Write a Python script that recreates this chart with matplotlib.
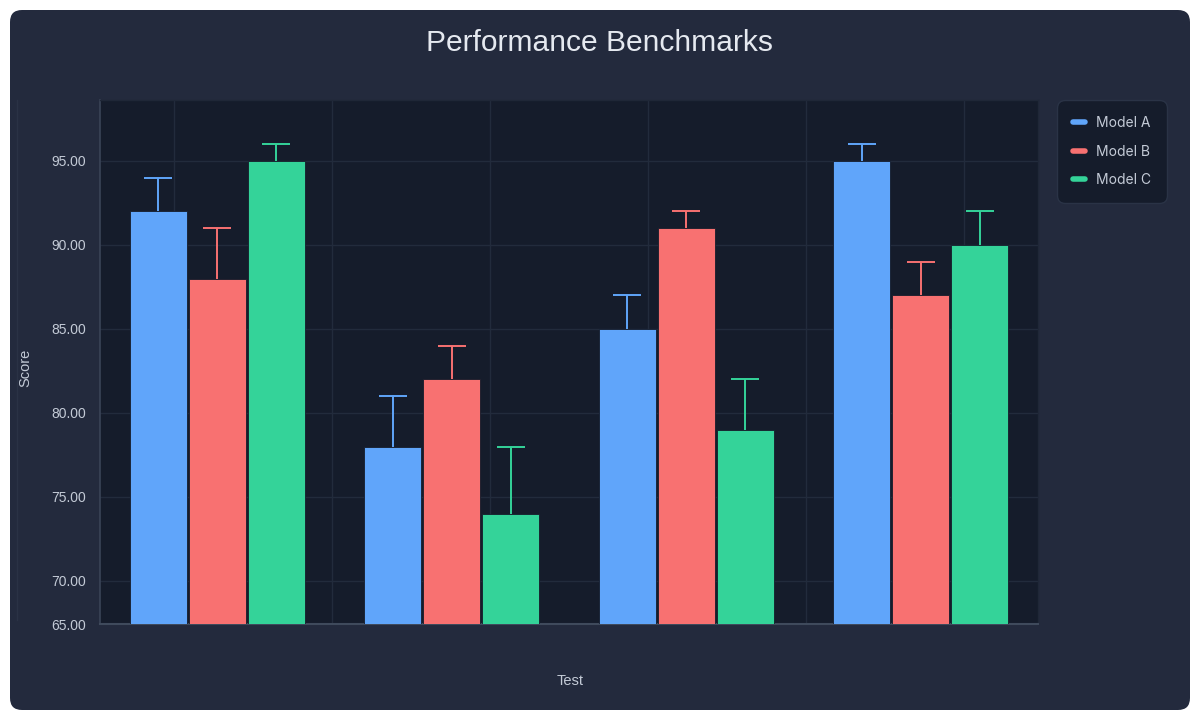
import matplotlib
matplotlib.use("Agg")
import matplotlib.pyplot as plt
from matplotlib.patches import FancyBboxPatch
from matplotlib.lines import Line2D
import numpy as np

# ---- data ----
tests = ["Test 1", "Test 2", "Test 3", "Test 4"]
models = ["Model A", "Model B", "Model C"]
model_a = [92, 78, 85, 95]
model_b = [88, 82, 91, 87]
model_c = [95, 74, 79, 90]
err_a = [2, 3, 2, 1]
err_b = [3, 2, 1, 2]
err_c = [1, 4, 3, 2]
y_ticks = [70, 75, 80, 85, 90, 95]
y_min, y_max = 67.44, 98.63
bottom_label = "65.00"

colors = ["#60a5fa", "#f87171", "#34d399"]
card = "#232a3d"
plot_bg = "#151c2b"
grid_c = "#222b3c"
text_c = "#c3cad6"

fig = plt.figure(figsize=(12, 7.2), dpi=100, facecolor="white")
card_patch = FancyBboxPatch((0.1, 0.1), 11.8, 7.0,
                            boxstyle="round,pad=0,rounding_size=0.12",
                            transform=fig.dpi_scale_trans, facecolor=card,
                            edgecolor="none", zorder=-10)
fig.patches.append(card_patch)
fig.lines.append(Line2D([17/1200, 17/1200], [1-100/720, 1-620/720],
                        transform=fig.transFigure, color="#2a3245", lw=1, zorder=-5))

ax = fig.add_axes([100/1200, 1-624/720, 938/1200, 524/720])
ax.set_zorder(1)
ax.set_facecolor(plot_bg)

x = np.arange(len(tests))
series = [model_a, model_b, model_c]
errs = [err_a, err_b, err_c]
offs = [-0.2516, 0.0, 0.2516]
w = 0.243
cap = 0.06
for i, (vals, e, c, m) in enumerate(zip(series, errs, colors, models)):
    vals = np.array(vals, dtype=float)
    e = np.array(e, dtype=float)
    xs = x + offs[i]
    bars = ax.bar(xs, vals - y_min, width=w, bottom=y_min, color=c,
                  edgecolor=plot_bg, linewidth=0.6, zorder=3, label=m)
    ax.vlines(xs, vals, vals + e, colors=c, lw=1.4, zorder=4)
    ax.hlines(vals + e, xs - cap, xs + cap, colors=c, lw=1.4, zorder=4)

ax.set_xlim(-0.5, len(tests) - 0.5)
ax.set_ylim(y_min, y_max)
ax.set_xticks([])
ax.set_yticks([y_min] + y_ticks)
ax.set_yticklabels([bottom_label] + [f"{t:.2f}" for t in y_ticks])
ax.tick_params(axis="y", length=0, pad=10, labelcolor=text_c, labelsize=10)
for lbl in ax.get_yticklabels():
    lbl.set_family("Liberation Sans")

for t in y_ticks:
    ax.axhline(t, color=grid_c, lw=1, zorder=1)
for fx in [74, 232, 390, 548, 706, 864]:
    ax.plot([fx/938, fx/938], [0, 1], transform=ax.transAxes,
            color=grid_c, lw=1, zorder=1)

for s in ["top", "right"]:
    ax.spines[s].set_color("#1f2737")
    ax.spines[s].set_linewidth(1)
ax.spines["left"].set_color("#3a4457")
ax.spines["bottom"].set_color("#3f4a5c")
ax.spines["left"].set_linewidth(1.2)
ax.spines["bottom"].set_linewidth(1.5)

fig.text(600/1200, 1-43/720, "Performance Benchmarks", ha="center", va="center",
         fontsize=21.6, color="#e5e9f0", family="Liberation Sans")
fig.text(25/1200, 1-368/720, "Score", ha="center", va="center", rotation=90,
         fontsize=10.5, color=text_c, family="Liberation Sans")
fig.text(570/1200, 1-681/720, "Test", ha="center", va="center",
         fontsize=10.5, color=text_c, family="Liberation Sans")

handles = [Line2D([0], [0], color=c, lw=4, solid_capstyle="round") for c in colors]
leg = fig.legend(handles, models, loc="upper left",
                 bbox_to_anchor=(1057/1200, 1-100/720), bbox_transform=fig.transFigure,
                 frameon=True, fancybox=True, facecolor=plot_bg, edgecolor="#2a3346",
                 framealpha=1, handlelength=0.9, handletextpad=0.75,
                 labelspacing=1.05, borderpad=1.15, borderaxespad=0,
                 prop={"family": "Inter", "size": 10})
leg.set_zorder(5)
for t in leg.get_texts():
    t.set_color(text_c)
leg.get_frame().set_boxstyle("round,pad=0,rounding_size=0.6")

fig.savefig("out.png", dpi=100, facecolor="white")
